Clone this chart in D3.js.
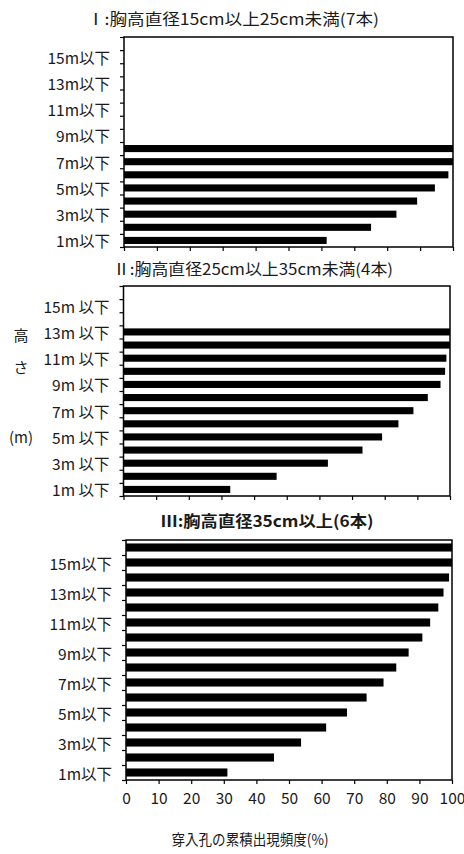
<!DOCTYPE html>
<html>
<head>
<meta charset="utf-8">
<script src="https://cdn.jsdelivr.net/npm/d3@7"></script>
<style>
  html, body { margin: 0; padding: 0; background: #fff; }
  svg { display: block; }
  text { font-family: "Noto Sans CJK JP", "Noto Sans", sans-serif; fill: #1a1a1a; }
</style>
</head>
<body>
<svg id="chart" width="464" height="854"></svg>
<script>
// Height classes (m), from lowest to highest
const heightClasses = [1, 2, 3, 4, 5, 6, 7, 8, 9, 10, 11, 12, 13, 14, 15, 16];
const labelledClasses = [1, 3, 5, 7, 9, 11, 13, 15];
const xTicks = [0, 10, 20, 30, 40, 50, 60, 70, 80, 90, 100];

// Cumulative frequency of entry holes (%) per height class, 1m upward
const smallTrees = [61.6, 75.1, 82.8, 89.1, 94.5, 98.6, 100, 100];
const mediumTrees = [32.7, 46.9, 62.6, 73.2, 79.2, 84.2, 88.8, 93.2, 97.1, 98.5, 98.9, 100, 100];
const largeTrees = [31.1, 45.4, 53.7, 61.4, 67.8, 73.8, 79.0, 82.9, 86.7, 90.9, 93.3, 95.8, 97.4, 99.1, 100, 100];

const panelTitles = [
  "Ⅰ:胸高直径15cm以上25cm未満(7本)",
  "Ⅱ:胸高直径25cm以上35cm未満(4本)",
  "Ⅲ:胸高直径35cm以上(6本)"
];
const yAxisTitle = ["高", "さ", "(m)"];
const xAxisTitle = "穿入孔の累積出現頻度(%)";

const svg = d3.select("#chart");

const panels = [
  { values: smallTrees, title: panelTitles[0], titleX: 233, titleY: 18, titleLen: 292, bold: false,
    x0: 124, x1: 453, y0: 37, y1: 247, label: h => h + "m以下", tickLabels: false },
  { values: mediumTrees, title: panelTitles[1], titleX: 253, titleY: 268, titleLen: 280, bold: false,
    x0: 123.5, x1: 450, y0: 286, y1: 496, label: h => h + "m 以下", tickLabels: false },
  { values: largeTrees, title: panelTitles[2], titleX: 267, titleY: 520, titleLen: 213, bold: true,
    x0: 126, x1: 452, y0: 540, y1: 780, label: h => h + "m以下", tickLabels: true }
];

panels.forEach(p => {
  const g = svg.append("g");

  const x = d3.scaleLinear().domain([0, 100]).range([p.x0, p.x1]);
  // boundaries between height classes (ticks sit between categories)
  const yEdge = d3.scaleLinear().domain([0, heightClasses.length]).range([p.y1, p.y0]);
  const yBand = d3.scaleBand()
    .domain(heightClasses.slice().reverse())
    .range([p.y0, p.y1])
    .paddingInner(0.46)
    .paddingOuter(0.23);

  // bars
  g.append("g").selectAll("rect")
    .data(p.values.map((v, i) => ({ h: heightClasses[i], v })))
    .join("rect")
    .attr("x", x(0))
    .attr("y", d => yBand(d.h))
    .attr("width", d => x(d.v) - x(0))
    .attr("height", yBand.bandwidth())
    .attr("fill", "#000");

  // frame
  g.append("rect")
    .attr("x", p.x0).attr("y", p.y0)
    .attr("width", p.x1 - p.x0).attr("height", p.y1 - p.y0)
    .attr("fill", "none").attr("stroke", "#000").attr("stroke-width", 1.5);

  // y ticks between categories
  const yAxis = g.append("g")
    .attr("transform", `translate(${p.x0},0)`)
    .call(d3.axisLeft(yEdge).tickValues(d3.range(0, heightClasses.length + 1)).tickSize(4).tickFormat(""));
  yAxis.select(".domain").remove();
  yAxis.selectAll(".tick line").attr("stroke", "#000").attr("stroke-width", 1.2);

  // y labels on odd classes
  g.append("g").selectAll("text")
    .data(labelledClasses)
    .join("text")
    .attr("x", p.x0 - 14)
    .attr("y", h => yBand(h) + yBand.bandwidth() / 2)
    .attr("text-anchor", "end")
    .attr("dominant-baseline", "central")
    .attr("font-size", 15.5)
    .text(p.label);

  // x ticks
  const xAxis = g.append("g")
    .attr("transform", `translate(0,${p.y1})`)
    .call(d3.axisBottom(x).tickValues(xTicks).tickSize(4)
      .tickFormat(p.tickLabels ? d3.format("d") : ""));
  xAxis.select(".domain").remove();
  xAxis.selectAll(".tick line").attr("stroke", "#000").attr("stroke-width", 1.2);
  xAxis.selectAll(".tick text")
    .attr("font-size", 15.5)
    .attr("y", 13)
    .attr("fill", "#1a1a1a")
    .style("font-family", "\"Noto Sans CJK JP\", sans-serif");

  // panel title
  g.append("text")
    .attr("x", p.titleX)
    .attr("y", p.titleY)
    .attr("text-anchor", "middle")
    .attr("dominant-baseline", "central")
    .attr("font-size", 15.5)
    .attr("font-weight", p.bold ? "bold" : "normal")
    .attr("textLength", p.titleLen)
    .attr("lengthAdjust", "spacingAndGlyphs")
    .text(p.title);
});

// vertical axis title
const yTitlePos = [334, 366, 436];
svg.append("g").selectAll("text")
  .data(yAxisTitle)
  .join("text")
  .attr("x", 21)
  .attr("y", (d, i) => yTitlePos[i])
  .attr("text-anchor", "middle")
  .attr("dominant-baseline", "central")
  .attr("font-size", 15)
  .text(d => d);

// horizontal axis title
svg.append("text")
  .attr("x", 250)
  .attr("y", 838)
  .attr("text-anchor", "middle")
  .attr("dominant-baseline", "central")
  .attr("font-size", 15)
  .attr("textLength", 157)
  .attr("lengthAdjust", "spacingAndGlyphs")
  .text(xAxisTitle);
</script>
</body>
</html>
